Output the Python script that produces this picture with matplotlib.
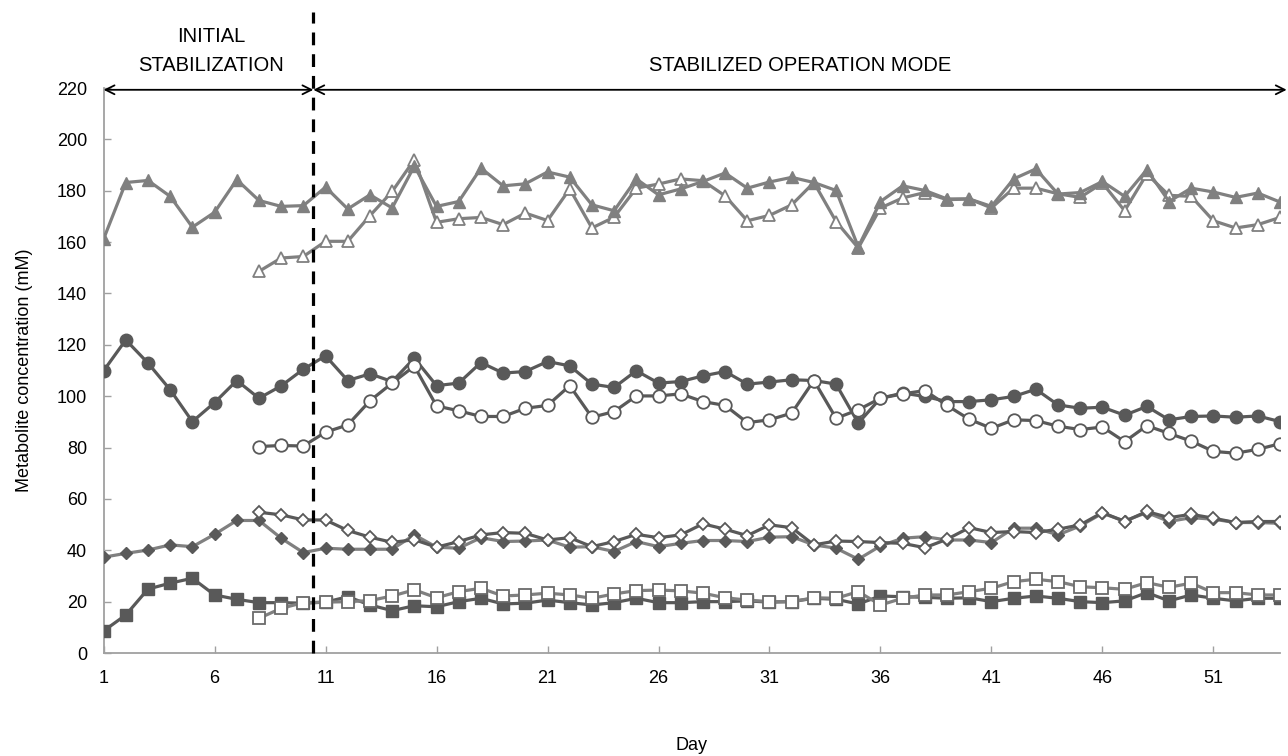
import matplotlib
matplotlib.use("Agg")
import matplotlib.pyplot as plt
import numpy as np

plt.rcParams['font.family'] = ['Liberation Sans', 'DejaVu Sans']

days_full = list(range(1, 55))
days_late = list(range(8, 55))

tri_filled = [161.2, 183.2, 184.0, 177.8, 165.8, 171.6, 184.3, 176.2, 173.9, 174.2,
              181.4, 172.9, 178.4, 173.3, 189.6, 173.9, 175.8, 188.8, 181.9, 182.7,
              187.3, 185.3, 174.5, 172.2, 184.6, 178.4, 180.7, 183.6, 186.9, 181.0,
              183.4, 185.2, 183.2, 180.1, 158.1, 175.8, 181.9, 180.1, 176.8, 176.8,
              173.9, 184.6, 188.5, 178.7, 179.3, 183.6, 177.8, 188.2, 175.8, 181.0,
              179.5, 177.4, 179.1, 175.6]
tri_open = [148.6, 153.8, 154.4, 160.3, 160.3, 170.3, 179.7, 192.1, 167.7, 169.1,
            169.6, 166.8, 171.3, 168.4, 180.7, 165.5, 169.7, 181.0, 182.6, 184.6,
            183.9, 178.0, 168.3, 170.4, 174.5, 183.2, 168.0, 157.7, 173.3, 177.2,
            179.3, 176.5, 176.8, 173.3, 181.0, 181.0, 178.8, 177.4, 183.0, 172.2,
            186.5, 178.2, 177.8, 168.3, 165.5, 166.8, 169.6]
circ_filled = [109.9, 121.9, 112.9, 102.5, 90.1, 97.5, 106.1, 99.2, 104.0, 110.5,
               115.7, 106.1, 108.7, 105.7, 114.8, 104.1, 105.1, 113.1, 109.0, 109.6,
               113.5, 111.8, 104.7, 103.4, 109.9, 105.1, 105.7, 107.9, 109.6, 104.7,
               105.5, 106.4, 106.1, 104.7, 89.5, 99.2, 101.2, 99.9, 97.9, 97.9,
               98.6, 99.9, 102.7, 96.6, 95.3, 95.7, 92.6, 96.0, 90.8, 92.1,
               92.3, 91.8, 92.3, 90.1]
circ_open = [80.4, 80.8, 80.6, 86.0, 88.8, 98.2, 105.1, 111.7, 96.2, 94.3,
             92.1, 92.1, 95.3, 96.4, 104.1, 91.8, 94.0, 100.1, 100.1, 100.9,
             97.9, 96.4, 89.7, 90.8, 93.4, 106.1, 91.4, 94.7, 99.2, 100.9,
             102.2, 96.4, 91.0, 87.5, 90.8, 90.5, 88.3, 87.0, 88.0, 82.3,
             88.5, 85.5, 82.5, 78.5, 77.8, 79.3, 81.5]
dia_filled = [37.3, 38.8, 40.1, 42.1, 41.4, 46.2, 51.6, 51.6, 44.7, 39.1,
              40.8, 40.4, 40.4, 40.4, 46.0, 41.2, 40.8, 44.9, 43.4, 43.6,
              44.0, 41.2, 41.4, 39.5, 43.4, 41.4, 42.7, 43.8, 43.8, 43.4,
              45.1, 45.3, 42.1, 40.8, 36.5, 41.7, 44.7, 45.3, 44.0, 44.0,
              43.0, 48.6, 48.6, 46.0, 49.5, 54.4, 51.4, 54.7, 51.2, 52.7,
              52.1, 50.8, 50.8, 50.5]
dia_open = [54.8, 53.8, 51.8, 51.8, 47.7, 45.1, 43.1, 44.1, 41.2, 43.4,
            46.0, 46.9, 46.6, 44.0, 44.9, 41.4, 43.4, 46.2, 44.9, 46.0,
            50.3, 48.2, 45.7, 49.9, 48.8, 42.1, 43.6, 43.4, 43.0, 42.7,
            41.0, 44.3, 48.8, 46.9, 47.3, 46.9, 48.2, 49.9, 54.7, 51.2,
            55.1, 52.7, 54.0, 52.5, 50.8, 51.2, 51.2]
sq_filled = [8.6, 14.8, 24.9, 27.2, 29.1, 22.6, 20.9, 19.6, 19.6, 19.4,
             19.8, 21.9, 18.7, 16.5, 18.4, 18.0, 20.0, 21.3, 19.1, 19.4,
             20.6, 19.6, 18.7, 19.6, 21.3, 19.6, 19.6, 20.0, 20.0, 20.3,
             19.8, 20.0, 21.3, 20.9, 19.1, 22.2, 21.9, 21.7, 21.3, 21.5,
             20.0, 21.3, 22.2, 21.3, 20.0, 19.6, 20.3, 23.5, 20.3, 22.6,
             21.3, 20.3, 21.3, 21.3]
sq_open = [13.5, 17.4, 19.6, 19.8, 20.0, 20.4, 22.2, 24.6, 21.5, 23.9,
           25.2, 22.2, 22.6, 23.3, 22.6, 21.3, 23.0, 24.3, 24.5, 24.2,
           23.3, 21.5, 20.6, 20.0, 20.0, 21.5, 21.3, 23.9, 18.7, 21.3,
           22.6, 22.6, 23.9, 25.2, 27.8, 28.7, 27.8, 25.8, 25.4, 24.8,
           27.4, 25.6, 27.2, 23.5, 23.5, 22.6, 22.6]

x_ticks = [1, 6, 11, 16, 21, 26, 31, 36, 41, 46, 51]
y_ticks = list(range(0, 221, 20))
transition_day = 10.45

W, H = 1288, 756
fig = plt.figure(figsize=(W / 100, H / 100), dpi=100)
ax = fig.add_axes([103.6 / W, 1 - 653 / H, (1280 - 103.6) / W, (653 - 88) / H])

LIGHT = '#808080'
DARK = '#595959'
lw = 2.3

# triangles
ax.plot(days_late, tri_open, color=LIGHT, lw=lw, marker='^', ms=9,
        mfc='white', mec=LIGHT, mew=1.3, zorder=3)
ax.plot(days_full, tri_filled, color=LIGHT, lw=lw, marker='^', ms=9,
        mfc=LIGHT, mec=LIGHT, zorder=4)
# circles
ax.plot(days_full, circ_filled, color=DARK, lw=lw, marker='o', ms=9,
        mfc=DARK, mec=DARK, zorder=3)
ax.plot(days_late, circ_open, color=DARK, lw=lw, marker='o', ms=9,
        mfc='white', mec=DARK, mew=1.3, zorder=4)
# diamonds
ax.plot(days_full, dia_filled, color=LIGHT, lw=lw, marker='D', ms=6.5,
        mfc=DARK, mec=DARK, zorder=3)
ax.plot(days_late, dia_open, color=DARK, lw=lw, marker='D', ms=6.5,
        mfc='white', mec=DARK, mew=1.3, zorder=4)
# squares
ax.plot(days_full, sq_filled, color=DARK, lw=lw, marker='s', ms=8,
        mfc=DARK, mec=DARK, zorder=3)
ax.plot(days_late, sq_open, color=LIGHT, lw=lw, marker='s', ms=8,
        mfc='white', mec='#6a6a6a', mew=1.3, zorder=4)

ax.set_xlim(1, 54)
ax.set_ylim(0, 220)
ax.set_xticks(x_ticks)
ax.set_xticklabels([str(t) for t in x_ticks])
ax.set_yticks(y_ticks)
ax.set_yticklabels([str(t) for t in y_ticks])

for s in ['top', 'right']:
    ax.spines[s].set_visible(False)
for s in ['left', 'bottom']:
    ax.spines[s].set_color('#a0a0a0')
    ax.spines[s].set_linewidth(1.3)
ax.tick_params(axis='both', direction='in', length=5, width=1, color='#a0a0a0',
               labelsize=13, labelcolor='black')
ax.tick_params(axis='x', pad=12)
ax.tick_params(axis='y', pad=12)

fig.text((103.6 + 1280) / 2 / W, 1 - 745 / H, 'Day', ha='center', va='center',
         fontsize=13)
ax.set_ylabel('Metabolite concentration (mM)', fontsize=13, labelpad=17)

# dashed transition line
ax.plot([transition_day, transition_day], [0, 249.5], color='black', lw=2.3,
        ls=(0, (4, 2.8)), clip_on=False, zorder=5)

# arrows
arrow_y = 219.3
ax.annotate('', xy=(1, arrow_y), xytext=(transition_day, arrow_y),
            arrowprops=dict(arrowstyle='<->', color='black', lw=1.3,
                            mutation_scale=16, shrinkA=0, shrinkB=0),
            annotation_clip=False)
ax.annotate('', xy=(transition_day, arrow_y), xytext=(54.3, arrow_y),
            arrowprops=dict(arrowstyle='<->', color='black', lw=1.3,
                            mutation_scale=16, shrinkA=0, shrinkB=0),
            annotation_clip=False)

ax.text(5.85, 240.0, 'INITIAL', ha='center', va='center', fontsize=14.5, clip_on=False)
ax.text(5.85, 228.7, 'STABILIZATION', ha='center', va='center', fontsize=14.5, clip_on=False)
ax.text(32.4, 228.7, 'STABILIZED OPERATION MODE', ha='center', va='center',
        fontsize=14.5, clip_on=False)

fig.savefig('out.png', dpi=100)
